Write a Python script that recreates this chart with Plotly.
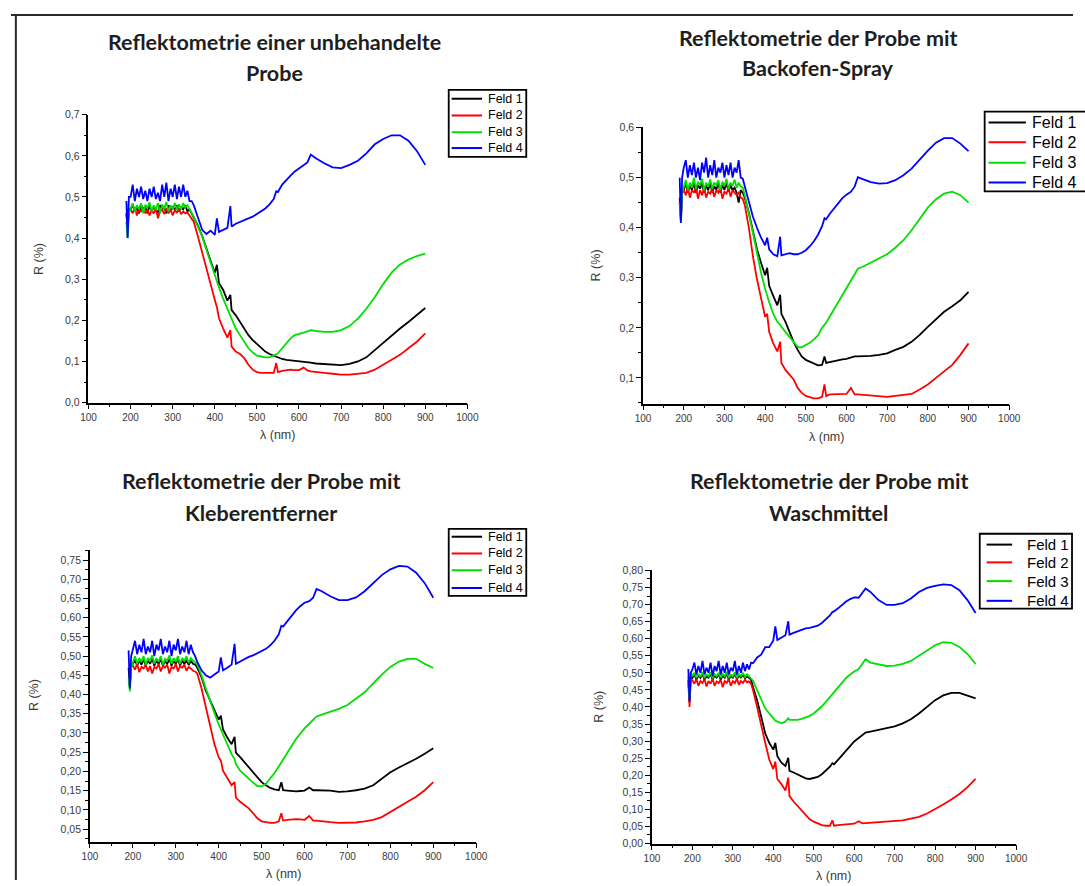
import plotly.graph_objects as go

# ---------------- data ----------------
WAVELENGTH = [190, 193, 196,
              200, 205, 210, 215, 220, 225, 230, 235, 240, 245,
              250, 255, 260, 265, 270, 275, 280, 285, 290, 295,
              300, 305, 310, 315, 320, 325, 330, 335, 340, 345,
              350, 360, 370, 380, 390, 400, 405, 410, 420, 430,
              437, 440, 450, 460, 470, 480, 490, 500, 510, 520,
              530, 540, 546, 550, 560, 570, 580, 590, 600, 611,
              620, 628, 640, 660, 680, 700, 720, 740, 760, 780,
              800, 820, 840, 860, 880, 900]

SERIES_NAMES = ["Feld 1", "Feld 2", "Feld 3", "Feld 4"]
SERIES_COLORS = ["#000000", "#ff0000", "#00e000", "#0000ff"]

# Panel 1: unbehandelte Probe
P1_FELD1 = [0.46, 0.42, 0.47,
            0.47, 0.48, 0.465, 0.475, 0.46, 0.48, 0.47, 0.475, 0.46, 0.48,
            0.465, 0.475, 0.47, 0.46, 0.48, 0.47, 0.475, 0.46, 0.48, 0.465,
            0.475, 0.47, 0.48, 0.465, 0.475, 0.47, 0.48, 0.465, 0.47, 0.46,
            0.45, 0.43, 0.405, 0.375, 0.345, 0.315, 0.335, 0.29, 0.274, 0.248,
            0.262, 0.225, 0.212, 0.196, 0.18, 0.164, 0.152, 0.142, 0.132, 0.124,
            0.118, 0.114, 0.112, 0.11, 0.106, 0.104, 0.103, 0.101, 0.1, 0.099,
            0.098, 0.097, 0.095, 0.094, 0.092, 0.091, 0.094, 0.1, 0.11, 0.128,
            0.144, 0.164, 0.18, 0.196, 0.212, 0.23]
P1_FELD2 = [0.46, 0.43, 0.47,
            0.47, 0.46, 0.475, 0.455, 0.47, 0.465, 0.475, 0.46, 0.47, 0.455,
            0.468, 0.46, 0.472, 0.448, 0.465, 0.47, 0.458, 0.472, 0.46, 0.47,
            0.455, 0.468, 0.462, 0.47, 0.458, 0.465, 0.46, 0.462, 0.455, 0.45,
            0.44, 0.404, 0.364, 0.324, 0.288, 0.25, 0.232, 0.205, 0.18, 0.158,
            0.176, 0.136, 0.124, 0.118, 0.108, 0.092, 0.08, 0.074, 0.072, 0.072,
            0.071, 0.072, 0.096, 0.074, 0.077, 0.078, 0.08, 0.079, 0.079, 0.085,
            0.078, 0.076, 0.074, 0.072, 0.07, 0.068, 0.068, 0.07, 0.072, 0.08,
            0.092, 0.104, 0.116, 0.132, 0.148, 0.168]
P1_FELD3 = [0.44, 0.40, 0.46,
            0.47, 0.485, 0.465, 0.48, 0.47, 0.485, 0.46, 0.48, 0.475, 0.487,
            0.465, 0.48, 0.47, 0.485, 0.46, 0.482, 0.47, 0.488, 0.465, 0.48,
            0.47, 0.485, 0.468, 0.482, 0.47, 0.485, 0.475, 0.48, 0.47, 0.462,
            0.452, 0.428, 0.404, 0.372, 0.34, 0.308, 0.294, 0.28, 0.252, 0.228,
            0.212, 0.204, 0.18, 0.164, 0.148, 0.132, 0.122, 0.114, 0.112, 0.11,
            0.11, 0.114, 0.117, 0.12, 0.132, 0.144, 0.156, 0.164, 0.166, 0.17,
            0.173, 0.176, 0.174, 0.172, 0.172, 0.176, 0.186, 0.204, 0.228, 0.256,
            0.288, 0.316, 0.336, 0.348, 0.356, 0.362]
P1_FELD4 = [0.49, 0.40, 0.50,
            0.50, 0.53, 0.49, 0.52, 0.50, 0.525, 0.495, 0.515, 0.49, 0.52,
            0.50, 0.525, 0.495, 0.51, 0.49, 0.53, 0.50, 0.535, 0.49, 0.52,
            0.50, 0.53, 0.495, 0.525, 0.50, 0.53, 0.50, 0.515, 0.49, 0.49,
            0.48, 0.45, 0.42, 0.41, 0.418, 0.408, 0.448, 0.415, 0.42, 0.425,
            0.478, 0.428, 0.435, 0.44, 0.444, 0.448, 0.452, 0.458, 0.465, 0.472,
            0.482, 0.495, 0.514, 0.512, 0.53, 0.542, 0.552, 0.562, 0.57, 0.578,
            0.584, 0.603, 0.594, 0.582, 0.572, 0.57, 0.578, 0.588, 0.606, 0.628,
            0.641, 0.65, 0.65, 0.637, 0.612, 0.578]

# Panel 2: Backofen-Spray
P2_FELD1 = [0.46, 0.42, 0.47,
            0.475, 0.49, 0.47, 0.485, 0.475, 0.49, 0.47, 0.485, 0.478, 0.49,
            0.47, 0.485, 0.475, 0.49, 0.47, 0.483, 0.476, 0.49, 0.47, 0.485,
            0.476, 0.49, 0.472, 0.485, 0.475, 0.48, 0.47, 0.45, 0.475, 0.47,
            0.46, 0.43, 0.39, 0.357, 0.33, 0.305, 0.32, 0.284, 0.264, 0.245,
            0.266, 0.228, 0.212, 0.192, 0.172, 0.156, 0.143, 0.136, 0.132, 0.128,
            0.125, 0.126, 0.143, 0.13, 0.132, 0.133, 0.135, 0.137, 0.138, 0.141,
            0.143, 0.143, 0.143, 0.144, 0.146, 0.149, 0.156, 0.162, 0.172, 0.186,
            0.202, 0.218, 0.232, 0.243, 0.255, 0.272]
P2_FELD2 = [0.45, 0.41, 0.47,
            0.475, 0.465, 0.48, 0.46, 0.475, 0.47, 0.482, 0.458, 0.475, 0.465,
            0.48, 0.46, 0.472, 0.468, 0.478, 0.462, 0.475, 0.47, 0.48, 0.458,
            0.472, 0.468, 0.48, 0.462, 0.475, 0.47, 0.465, 0.47, 0.46, 0.458,
            0.445, 0.40, 0.343, 0.297, 0.258, 0.222, 0.228, 0.192, 0.169, 0.153,
            0.172, 0.13, 0.116, 0.107, 0.097, 0.08, 0.07, 0.064, 0.061, 0.059,
            0.059, 0.062, 0.087, 0.064, 0.067, 0.067, 0.068, 0.068, 0.068, 0.08,
            0.067, 0.067, 0.066, 0.064, 0.063, 0.062, 0.064, 0.066, 0.068, 0.077,
            0.087, 0.1, 0.113, 0.126, 0.146, 0.169]
P2_FELD3 = [0.45, 0.41, 0.47,
            0.48, 0.495, 0.475, 0.49, 0.48, 0.50, 0.478, 0.492, 0.485, 0.498,
            0.475, 0.49, 0.482, 0.497, 0.478, 0.49, 0.485, 0.495, 0.475, 0.492,
            0.483, 0.498, 0.478, 0.49, 0.484, 0.496, 0.48, 0.49, 0.482, 0.48,
            0.465, 0.429, 0.39, 0.35, 0.31, 0.278, 0.264, 0.251, 0.228, 0.212,
            0.206, 0.202, 0.192, 0.182, 0.172, 0.162, 0.161, 0.165, 0.17, 0.177,
            0.185, 0.2, 0.206, 0.21, 0.224, 0.238, 0.251, 0.265, 0.279, 0.294,
            0.308, 0.318, 0.322, 0.33, 0.338, 0.347, 0.36, 0.375, 0.395, 0.418,
            0.44, 0.457, 0.468, 0.472, 0.465, 0.45]
P2_FELD4 = [0.50, 0.41, 0.50,
            0.52, 0.535, 0.50, 0.525, 0.505, 0.53, 0.50, 0.52, 0.495, 0.53,
            0.51, 0.54, 0.50, 0.525, 0.505, 0.535, 0.50, 0.52, 0.51, 0.53,
            0.50, 0.525, 0.505, 0.53, 0.50, 0.52, 0.51, 0.535, 0.50, 0.498,
            0.482, 0.452, 0.422, 0.40, 0.38, 0.365, 0.38, 0.357, 0.347, 0.343,
            0.382, 0.345, 0.347, 0.349, 0.347, 0.347, 0.35, 0.355, 0.363, 0.373,
            0.386, 0.403, 0.419, 0.417, 0.429, 0.439, 0.449, 0.459, 0.466, 0.472,
            0.482, 0.501, 0.497, 0.491, 0.488, 0.489, 0.495, 0.505, 0.518, 0.537,
            0.554, 0.57, 0.579, 0.579, 0.568, 0.553]

# Panel 3: Kleberentferner
P3_FELD1 = [0.47, 0.42, 0.475,
            0.48, 0.49, 0.475, 0.488, 0.478, 0.492, 0.475, 0.488, 0.48, 0.493,
            0.475, 0.488, 0.48, 0.492, 0.475, 0.487, 0.48, 0.493, 0.475, 0.488,
            0.48, 0.492, 0.476, 0.488, 0.48, 0.49, 0.477, 0.488, 0.48, 0.478,
            0.47, 0.445, 0.41, 0.385, 0.362, 0.335, 0.345, 0.309, 0.288, 0.271,
            0.29, 0.249, 0.237, 0.224, 0.211, 0.196, 0.183, 0.172, 0.164, 0.157,
            0.153, 0.151, 0.172, 0.151, 0.15, 0.149, 0.148, 0.149, 0.15, 0.158,
            0.151, 0.151, 0.151, 0.15, 0.147, 0.148, 0.151, 0.155, 0.164, 0.18,
            0.198, 0.21, 0.221, 0.233, 0.246, 0.26]
P3_FELD2 = [0.43, 0.425, 0.475,
            0.475, 0.465, 0.48, 0.458, 0.472, 0.468, 0.478, 0.46, 0.474, 0.455,
            0.472, 0.468, 0.48, 0.46, 0.475, 0.47, 0.478, 0.455, 0.472, 0.468,
            0.48, 0.46, 0.475, 0.47, 0.478, 0.462, 0.472, 0.468, 0.462, 0.46,
            0.455, 0.416, 0.365, 0.314, 0.271, 0.237, 0.228, 0.202, 0.181, 0.164,
            0.172, 0.132, 0.121, 0.112, 0.104, 0.091, 0.078, 0.07, 0.067, 0.066,
            0.066, 0.07, 0.091, 0.072, 0.074, 0.075, 0.076, 0.075, 0.074, 0.084,
            0.072, 0.072, 0.07, 0.068, 0.066, 0.066, 0.067, 0.07, 0.074, 0.081,
            0.095, 0.108, 0.121, 0.134, 0.151, 0.172]
P3_FELD3 = [0.44, 0.408, 0.47,
            0.485, 0.50, 0.48, 0.495, 0.485, 0.50, 0.478, 0.495, 0.488, 0.502,
            0.48, 0.495, 0.485, 0.50, 0.478, 0.493, 0.488, 0.502, 0.48, 0.495,
            0.485, 0.50, 0.48, 0.495, 0.488, 0.50, 0.482, 0.495, 0.488, 0.485,
            0.478, 0.45, 0.416, 0.382, 0.352, 0.322, 0.309, 0.296, 0.271, 0.245,
            0.232, 0.219, 0.202, 0.191, 0.181, 0.171, 0.162, 0.161, 0.168, 0.181,
            0.196, 0.213, 0.224, 0.232, 0.251, 0.269, 0.284, 0.298, 0.312, 0.324,
            0.335, 0.343, 0.348, 0.355, 0.363, 0.373, 0.389, 0.406, 0.429, 0.452,
            0.472, 0.486, 0.493, 0.493, 0.48, 0.469]
P3_FELD4 = [0.515, 0.416, 0.50,
            0.52, 0.54, 0.505, 0.53, 0.51, 0.545, 0.505, 0.525, 0.51, 0.54,
            0.50, 0.53, 0.515, 0.545, 0.505, 0.525, 0.51, 0.54, 0.50, 0.53,
            0.515, 0.545, 0.505, 0.525, 0.51, 0.54, 0.505, 0.53, 0.51, 0.50,
            0.485, 0.463, 0.45, 0.444, 0.452, 0.46, 0.497, 0.463, 0.47, 0.478,
            0.532, 0.48, 0.486, 0.493, 0.498, 0.502, 0.508, 0.515, 0.519, 0.528,
            0.54, 0.557, 0.579, 0.577, 0.592, 0.606, 0.619, 0.63, 0.639, 0.643,
            0.652, 0.675, 0.669, 0.656, 0.646, 0.646, 0.653, 0.669, 0.69, 0.711,
            0.726, 0.735, 0.733, 0.717, 0.69, 0.652]

# Panel 4: Waschmittel
P4_FELD1 = [0.48, 0.42, 0.49,
            0.485, 0.495, 0.48, 0.492, 0.485, 0.497, 0.48, 0.49, 0.486, 0.497,
            0.48, 0.492, 0.486, 0.496, 0.48, 0.492, 0.486, 0.498, 0.48, 0.49,
            0.486, 0.497, 0.482, 0.492, 0.486, 0.495, 0.484, 0.49, 0.486, 0.48,
            0.458, 0.42, 0.372, 0.323, 0.295, 0.275, 0.295, 0.256, 0.237, 0.227,
            0.251, 0.213, 0.208, 0.203, 0.196, 0.191, 0.189, 0.191, 0.195, 0.203,
            0.213, 0.225, 0.235, 0.232, 0.245, 0.258, 0.273, 0.287, 0.299, 0.309,
            0.319, 0.325, 0.328, 0.333, 0.337, 0.343, 0.352, 0.364, 0.381, 0.40,
            0.42, 0.434, 0.441, 0.441, 0.434, 0.425]
P4_FELD2 = [0.47, 0.40, 0.48,
            0.478, 0.468, 0.482, 0.462, 0.476, 0.47, 0.482, 0.46, 0.476, 0.468,
            0.483, 0.462, 0.475, 0.47, 0.48, 0.458, 0.476, 0.47, 0.482, 0.462,
            0.476, 0.47, 0.483, 0.465, 0.476, 0.47, 0.48, 0.472, 0.475, 0.468,
            0.449, 0.40, 0.343, 0.295, 0.246, 0.218, 0.24, 0.189, 0.174, 0.155,
            0.193, 0.139, 0.123, 0.11, 0.097, 0.083, 0.071, 0.064, 0.058, 0.054,
            0.052, 0.052, 0.068, 0.052, 0.054, 0.055, 0.056, 0.057, 0.058, 0.065,
            0.059, 0.06, 0.061, 0.062, 0.064, 0.065, 0.068, 0.073, 0.078, 0.088,
            0.1, 0.114, 0.129, 0.145, 0.165, 0.189]
P4_FELD3 = [0.49, 0.42, 0.50,
            0.49, 0.50, 0.485, 0.497, 0.488, 0.502, 0.485, 0.495, 0.49, 0.502,
            0.484, 0.496, 0.49, 0.50, 0.485, 0.497, 0.49, 0.503, 0.485, 0.495,
            0.49, 0.502, 0.486, 0.497, 0.49, 0.50, 0.488, 0.496, 0.49, 0.485,
            0.477, 0.449, 0.42, 0.396, 0.381, 0.367, 0.36, 0.357, 0.352, 0.357,
            0.367, 0.362, 0.362, 0.362, 0.365, 0.369, 0.374, 0.381, 0.391, 0.402,
            0.415, 0.429, 0.437, 0.444, 0.458, 0.473, 0.485, 0.495, 0.504, 0.511,
            0.526, 0.54, 0.53, 0.524, 0.52, 0.521, 0.526, 0.535, 0.55, 0.566,
            0.581, 0.59, 0.588, 0.576, 0.555, 0.526]
P4_FELD4 = [0.511, 0.415, 0.50,
            0.51, 0.53, 0.495, 0.52, 0.50, 0.535, 0.495, 0.515, 0.50, 0.53,
            0.49, 0.52, 0.505, 0.535, 0.495, 0.52, 0.50, 0.53, 0.495, 0.515,
            0.505, 0.535, 0.495, 0.52, 0.50, 0.53, 0.505, 0.525, 0.51, 0.53,
            0.528, 0.545, 0.553, 0.575, 0.575, 0.595, 0.636, 0.596, 0.603, 0.61,
            0.651, 0.612, 0.617, 0.622, 0.627, 0.63, 0.632, 0.634, 0.638, 0.646,
            0.656, 0.668, 0.678, 0.68, 0.689, 0.699, 0.709, 0.716, 0.721, 0.72,
            0.733, 0.747, 0.737, 0.713, 0.699, 0.699, 0.704, 0.718, 0.737, 0.749,
            0.755, 0.759, 0.757, 0.742, 0.713, 0.675]

PANEL_TITLES = [
    ("Reflektometrie einer unbehandelte", "Probe"),
    ("Reflektometrie der Probe mit", "Backofen-Spray"),
    ("Reflektometrie der Probe mit", "Kleberentferner"),
    ("Reflektometrie der Probe mit", "Waschmittel"),
]
PANEL_DATA = [
    [P1_FELD1, P1_FELD2, P1_FELD3, P1_FELD4],
    [P2_FELD1, P2_FELD2, P2_FELD3, P2_FELD4],
    [P3_FELD1, P3_FELD2, P3_FELD3, P3_FELD4],
    [P4_FELD1, P4_FELD2, P4_FELD3, P4_FELD4],
]
X_TICKS = [100, 200, 300, 400, 500, 600, 700, 800, 900, 1000]
X_TITLE = "λ (nm)"
Y_TITLE = "R (%)"

for panel in PANEL_DATA:
    for s in panel:
        assert len(s) == len(WAVELENGTH), len(s)

# ---------------- layout (pixel geometry of the page) ----------------
W, H = 1085, 886


def fx(p):
    return p / W


def fy(p):
    return 1 - p / H


# plot boxes: left, right, top, bottom in pixels
BOX = [(82, 468, 110, 402), (647, 1020, 123, 403),
       (83.5, 477, 551, 847), (656, 1027, 572, 849)]
YRANGE = [(0, 0.7005), (0.0488, 0.6005), (0.0175, 0.7775), (0, 0.8005)]
YDTICK = [0.1, 0.1, 0.05, 0.05]
YMINOR = [0.05, 0.05, 0.025, 0.025]
YFMT = [".1f", ".1f", ".2f", ".2f"]
TITLE_X = [272, 825, 258, 836]
TITLE_Y = [(37, 68), (32, 63), (482, 514), (482, 514)]
YTITLE_X = [31, 599, 26, 602]
XTITLE_Y = [435, 437, 880, 882]

# legend boxes: left, right, top, bottom, entry y's, sample x0/x1, text x, font size
LEGENDS = [
    dict(box=(449, 528, 85, 153), ys=(94, 111, 128, 144), sx=(452, 483), tx=487, fs=12.5),
    dict(box=(995, 1100, 107, 188), ys=(118, 138, 159, 179), sx=(999, 1037), tx=1041, fs=16),
    dict(box=(449, 528, 530, 598), ys=(538, 555, 572, 590), sx=(452, 483), tx=487, fs=12.5),
    dict(box=(990, 1084, 535, 611), ys=(546, 564, 583, 603), sx=(997, 1023), tx=1036, fs=15),
]

fig = go.Figure()
layout = dict(
    width=W, height=H, margin=dict(l=0, r=0, t=0, b=0),
    paper_bgcolor="white", plot_bgcolor="white",
    separators=",.", showlegend=False,
)
annotations = []
shapes = []
xtickfont = dict(family="Arial", size=10, color="#3a3a3a")
ytickfont = dict(family="Arial", size=10.5, color="#3a3a3a")

for i in range(4):
    n = i + 1
    xa = "xaxis" if n == 1 else f"xaxis{n}"
    ya = "yaxis" if n == 1 else f"yaxis{n}"
    xr = "x" if n == 1 else f"x{n}"
    yr = "y" if n == 1 else f"y{n}"
    l, r, t, b = BOX[i]
    layout[xa] = dict(
        domain=[fx(l), fx(r)], anchor=yr, range=[100, 1000],
        tickmode="array", tickvals=X_TICKS, ticktext=[str(v) for v in X_TICKS],
        ticks="outside", ticklen=5, tickwidth=1.3, tickcolor="black",
        minor=dict(ticks="outside", ticklen=3, tickwidth=1.1, dtick=50, tick0=0,
                   tickcolor="black"),
        showline=True, linewidth=1.6, linecolor="black",
        showgrid=False, zeroline=False, tickfont=xtickfont, fixedrange=True,
    )
    layout[ya] = dict(
        domain=[fy(b), fy(t)], anchor=xr, range=list(YRANGE[i]),
        dtick=YDTICK[i], tick0=0, tickformat=YFMT[i],
        ticks="outside", ticklen=5, tickwidth=1.3, tickcolor="black",
        minor=dict(ticks="outside", ticklen=3, tickwidth=1.1, dtick=YMINOR[i],
                   tick0=0, tickcolor="black"),
        showline=True, linewidth=1.6, linecolor="black",
        showgrid=False, zeroline=False, tickfont=ytickfont, fixedrange=True,
    )
    for j, series in enumerate(PANEL_DATA[i]):
        fig.add_trace(go.Scatter(
            x=WAVELENGTH, y=series, mode="lines", name=SERIES_NAMES[j],
            line=dict(color=SERIES_COLORS[j], width=1.8),
            xaxis=xr, yaxis=yr, hoverinfo="skip",
        ))
    # titles (two lines)
    for k, line in enumerate(PANEL_TITLES[i]):
        annotations.append(dict(
            text=line, xref="paper", yref="paper",
            x=fx(TITLE_X[i]), y=fy(TITLE_Y[i][k]), xanchor="center", yanchor="middle",
            showarrow=False, font=dict(family="Lato", size=21.5, color="#1e1e1e",
                                       weight="bold"),
        ))
    # axis titles
    annotations.append(dict(
        text=X_TITLE, xref="paper", yref="paper",
        x=fx((l + r) / 2), y=fy(XTITLE_Y[i]), xanchor="center", yanchor="middle",
        showarrow=False, font=dict(family="Arial", size=12.5, color="#3a3a3a"),
    ))
    annotations.append(dict(
        text=Y_TITLE, xref="paper", yref="paper", textangle=-90,
        x=fx(YTITLE_X[i]), y=fy((t + b) / 2), xanchor="center", yanchor="middle",
        showarrow=False, font=dict(family="Arial", size=12.5, color="#3a3a3a"),
    ))
    # legend box (drawn as a framed key)
    lg = LEGENDS[i]
    bl, br, bt, bb = lg["box"]
    shapes.append(dict(type="rect", xref="paper", yref="paper",
                       x0=fx(bl), x1=fx(br), y0=fy(bb), y1=fy(bt),
                       line=dict(color="black", width=1.8), fillcolor="white"))
    for j, yy in enumerate(lg["ys"]):
        shapes.append(dict(type="line", xref="paper", yref="paper",
                           x0=fx(lg["sx"][0]), x1=fx(lg["sx"][1]), y0=fy(yy), y1=fy(yy),
                           line=dict(color=SERIES_COLORS[j], width=2)))
        annotations.append(dict(
            text=SERIES_NAMES[j], xref="paper", yref="paper",
            x=fx(lg["tx"]), y=fy(yy), xanchor="left", yanchor="middle",
            showarrow=False, font=dict(family="Arial", size=lg["fs"], color="black"),
        ))

shapes += [
    dict(type="line", xref="paper", yref="paper", x0=fx(3), x1=fx(1085),
         y0=fy(9), y1=fy(9), line=dict(color="#2a2a2a", width=2)),
    dict(type="line", xref="paper", yref="paper", x0=fx(8), x1=fx(8),
         y0=fy(9), y1=fy(886), line=dict(color="#2a2a2a", width=2)),
]
layout["annotations"] = annotations
layout["shapes"] = shapes
fig.update_layout(**layout)

fig.write_html("out.html", config={"displayModeBar": False},
               post_script="document.body.style.margin='0px';")
